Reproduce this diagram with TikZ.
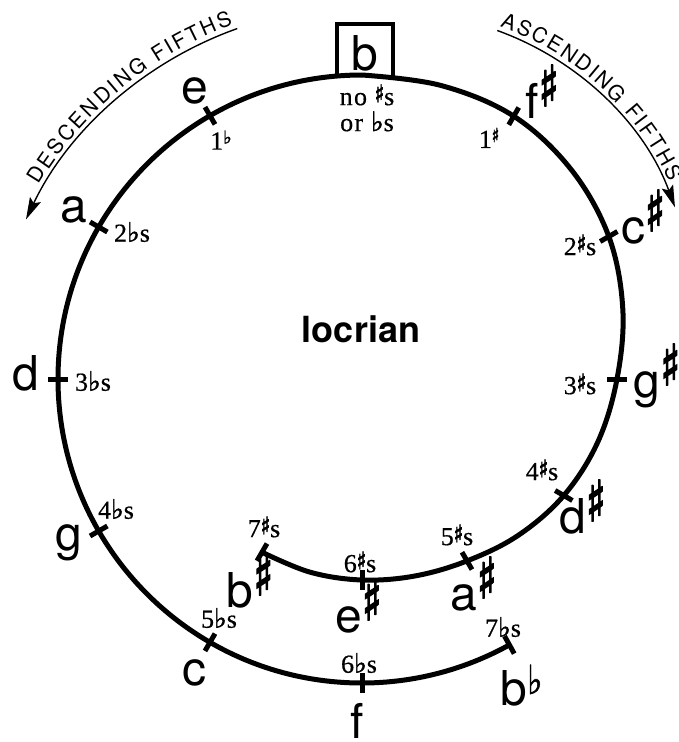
\documentclass[tikz,border=0pt]{standalone}
\usepackage{fontspec}
\setmainfont{TeX Gyre Heros}
\newfontfamily\ser[LetterSpace=5,FakeBold=0.6]{Liberation Serif}
\newfontfamily\sym[FakeBold=1.5]{DejaVu Sans}
\newfontfamily\symb[FakeBold=3.5]{DejaVu Sans Bold}
\usetikzlibrary{decorations.text,arrows.meta}
\newcommand\Nsh{\raisebox{12pt}{\scalebox{0.72}[1]{\symb\fontsize{56}{56}\selectfont ♯}}}
\newcommand\Nfl{\raisebox{11pt}{\scalebox{0.8}[1]{\sym\fontsize{40}{40}\selectfont ♭}}}
\newcommand\ssh{\raisebox{3pt}{\scalebox{0.8}[1]{\symb\fontsize{24}{24}\selectfont ♯}}}
\newcommand\sfl{{\sym\fontsize{27}{27}\selectfont ♭}}
\newcommand\supfl{\raisebox{6pt}{\sym\fontsize{18}{18}\selectfont ♭}}
\newcommand\supsh{\raisebox{6pt}{\scalebox{0.8}[1]{\symb\fontsize{19}{19}\selectfont ♯}}}
\begin{document}
\begin{tikzpicture}[x=1pt,y=-1pt,
  curve/.style={line width=5pt},
  tickmark/.style={line width=5pt},
  note/.style={inner sep=0pt,anchor=base,font=\fontsize{48}{48}\selectfont},
  lab/.style={inner sep=0pt,font=\ser\fontsize{26}{26}\selectfont},
  guide/.style={line width=1.4pt,-{Stealth[length=22pt,width=12pt,inset=4pt]}},
  arctext/.style={decorate,decoration={text along path,text align={fit to path},
     text={|\fontsize{21}{21}\selectfont|#1}}}]
\useasboundingbox (0,0) rectangle (679,742);

% descending side: circle arc
\draw[curve] (362,75) arc[start angle=-90,end angle=-299,radius=304];
% ascending side: inward spiral
\draw[curve] plot[smooth,tension=0.6] coordinates {(362,75) (440.7,85.4) (513.8,116.2)
  (571.3,169.7) (608.8,236.5) (622.8,309.1) (617,379) (597.7,442.2) (563.8,495.5)
  (518.3,535.3) (467,560.9) (414.8,576) (362,580) (310.2,572.2) (262,552.2)};

\begin{scope}[shift={(362,379)}]
  \foreach \a in {-120,-150,-180,-210,-240,-270,-299}
    \draw[tickmark] (\a:294) -- (\a:314);
  \foreach \a/\r in {-60/303.5,-30/285,0/255,30/233,60/210,90/201,120/200}
    \draw[tickmark] ({\a}:{\r-10}) -- ({\a}:{\r+10});
  \draw[guide] (-109.6:372) arc[start angle=-109.6,end angle=-154.6,radius=372];
  \path[arctext={DESCENDING FIFTHS}] (-149:377) arc[start angle=-149,end angle=-110,radius=377];
\end{scope}
\begin{scope}[shift={(397,309)}]
  \draw[guide] (-70.2:296) arc[start angle=-70.2,end angle=-20.1,radius=296];
  \path[arctext={ASCENDING FIFTHS}] (-70:301) arc[start angle=-70,end angle=-25,radius=301];
\end{scope}

% box around the starting note
\draw[line width=3.5pt] (337,77) -- (337,24) -- (393,24) -- (393,77);

% note names
\node[note] (nB) at (365,70) {b};
\node[note] (nE) at (195,103) {e};
\node[note] (nA) at (73.5,222) {a};
\node[note] (nD) at (26,390) {d};
\node[note] (nG) at (68.5,550) {g};
\node[note] (nC) at (194.5,685) {c};
\node[note] (nF) at (357,738) {f};
\node[note] (nBb) at (521.5,705) {b\Nfl};
\node[note] (nFs) at (542,118) {f\Nsh};
\node[note] (nCs) at (643,243) {c\Nsh};
\node[note] (nGs) at (657,397) {g\Nsh};
\node[note] (nDs) at (582.5,533) {d\Nsh};
\node[note] (nAs) at (473.5,610) {a\Nsh};
\node[note] (nEs) at (358.5,632) {e\Nsh};
\node[note] (nBs) at (250,607) {b\Nsh};

% key signature labels
\node[lab,align=center] (l0) at (367,108) {no \ssh s\\or \sfl s};
\node[lab] (l1f) at (221,140) {1\supfl};
\node[lab] (l2f) at (132,232) {2\sfl s};
\node[lab] (l3f) at (93,381) {3\sfl s};
\node[lab] (l4f) at (116,509) {4\sfl s};
\node[lab] (l5f) at (219,618) {5\sfl s};
\node[lab] (l6f) at (359,663) {6\sfl s};
\node[lab] (l7f) at (503,627) {7\sfl s};
\node[lab] (l1s) at (489,138) {1\supsh};
\node[lab] (l2s) at (580,245) {2\ssh s};
\node[lab] (l3s) at (580,384) {3\ssh s};
\node[lab] (l4s) at (542,470) {4\ssh s};
\node[lab] (l5s) at (457,535) {5\ssh s};
\node[lab] (l6s) at (360,562) {6\ssh s};
\node[lab] (l7s) at (264,527) {7\ssh s};

\node[inner sep=0pt,anchor=base,font=\bfseries\fontsize{36}{36}\selectfont] (mode) at (361,342) {locrian};
\end{tikzpicture}
\end{document}
